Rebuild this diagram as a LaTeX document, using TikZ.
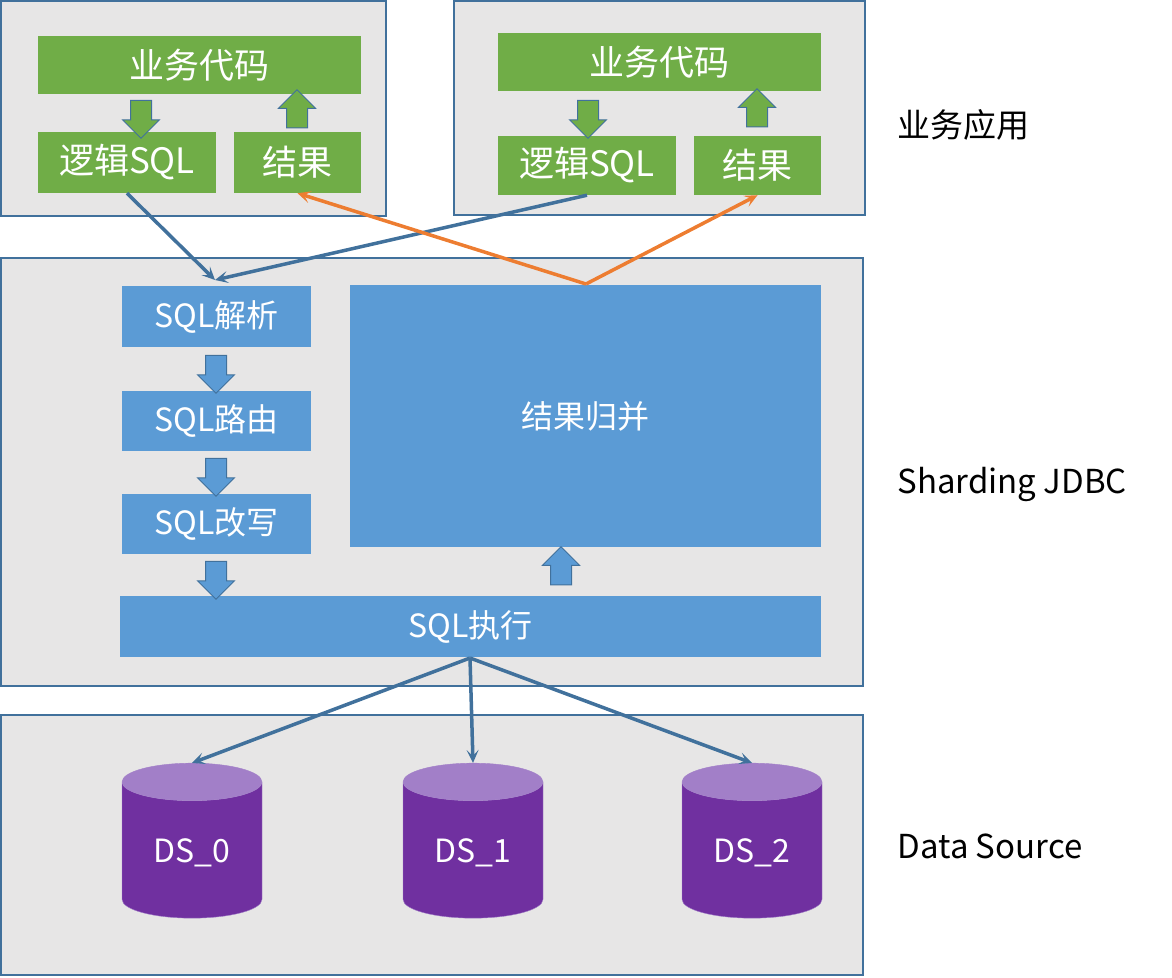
\documentclass[tikz,border=0pt]{standalone}
\usepackage{fontspec}
\setmainfont{Noto Sans CJK SC}
\usetikzlibrary{shapes.geometric,shapes.arrows,arrows.meta}
\definecolor{panel}{HTML}{E7E6E6}
\definecolor{edge}{HTML}{41719C}
\definecolor{grn}{HTML}{70AD47}
\definecolor{blu}{HTML}{5B9BD5}
\definecolor{org}{HTML}{ED7D31}
\definecolor{pur}{HTML}{7030A0}
\definecolor{purtop}{HTML}{A27FC8}
\tikzset{
  layer/.style={draw=edge,fill=panel,line width=1.2pt},
  gbox/.style={fill=grn,text=white,font=\fontsize{35}{38}\selectfont},
  bbox/.style={fill=blu,text=white,font=\fontsize{32}{36}\selectfont},
  barrow/.style={single arrow,draw=edge,fill=#1,line width=1pt,minimum height=38pt,
    single arrow head extend=8pt,single arrow head indent=0pt,
    single arrow tip angle=90,inner sep=10pt},
  db/.style={cylinder,shape border rotate=90,aspect=0.45,minimum width=140pt,minimum height=155pt,
    cylinder uses custom fill,cylinder body fill=pur,cylinder end fill=purtop,draw=purtop,
    text=white,font=\fontsize{32}{36}\selectfont},
  flow/.style={-{Stealth[length=13pt,width=12pt,inset=6pt]},line width=3.5pt,draw=edge},
  back/.style={flow,draw=org},
  tag/.style={font=\fontsize{33}{36}\selectfont,anchor=west}
}
\begin{document}
\begin{tikzpicture}[x=1pt,y=-1pt]
\useasboundingbox (0,0) rectangle (1172,977);
% layers
\draw[layer] (1,1) rectangle (386,216);
\draw[layer] (454,1) rectangle (865,215);
\draw[layer] (1,258) rectangle (863,686);
\draw[layer] (1,715) rectangle (863,975);
% application
\node[gbox,minimum width=323pt,minimum height=58pt] (code1) at (199.5,65) {业务代码};
\node[gbox,minimum width=178pt,minimum height=61pt] (sql1) at (127,162.5) {逻辑SQL};
\node[gbox,minimum width=127pt,minimum height=61pt] (res1) at (297.5,162.5) {结果};
\node[gbox,minimum width=323pt,minimum height=58pt] (code2) at (659.5,62) {业务代码};
\node[gbox,minimum width=178pt,minimum height=59pt] (sql2) at (587,165.5) {逻辑SQL};
\node[gbox,minimum width=127pt,minimum height=59pt] (res2) at (757.5,165.5) {结果};
\node[barrow=grn,rotate=-90] (a1) at (141,114) {};
\node[barrow=grn,rotate=90] (a2) at (297,114) {};
\node[barrow=grn,rotate=-90] (a3) at (588,114) {};
\node[barrow=grn,rotate=90] (a4) at (757,113) {};
% sharding jdbc
\node[bbox,minimum width=189pt,minimum height=61pt] (parse) at (216.5,316.5) {SQL解析};
\node[bbox,minimum width=189pt,minimum height=60pt] (route) at (216.5,421) {SQL路由};
\node[bbox,minimum width=189pt,minimum height=60pt] (rewrite) at (216.5,524) {SQL改写};
\node[bbox,minimum width=471pt,minimum height=262pt] (merge) at (585.5,416) {结果归并};
\node[bbox,minimum width=701pt,minimum height=61pt] (exec) at (470.5,626.5) {SQL执行};
\node[barrow=blu,rotate=-90] (b1) at (216,369) {};
\node[barrow=blu,rotate=-90] (b2) at (216,472) {};
\node[barrow=blu,rotate=-90] (b3) at (216,575) {};
\node[barrow=blu,rotate=90] (b4) at (561,571) {};
% data sources
\node[db] (ds0) at (192,853) {DS\_0};
\node[db] (ds1) at (473,853) {DS\_1};
\node[db] (ds2) at (752,853) {DS\_2};
% connectors
\coordinate (in) at (215,280);
\coordinate (out) at (586,284);
\coordinate (fan) at (470,658);
\draw[flow] (sql1.south) -- (in);
\draw[flow] (sql2.south) -- (in);
\draw[back] (out) -- (res1.south);
\draw[back] (out) -- (res2.south);
\draw[flow] (fan) -- (ds0.north);
\draw[flow] (fan) -- (ds1.north);
\draw[flow] (fan) -- (ds2.north);
% layer names
\node[tag] (t1) at (894,125) {业务应用};
\node[tag] (t2) at (894,484) {Sharding JDBC};
\node[tag] (t3) at (894,846) {Data Source};
\end{tikzpicture}
\end{document}
